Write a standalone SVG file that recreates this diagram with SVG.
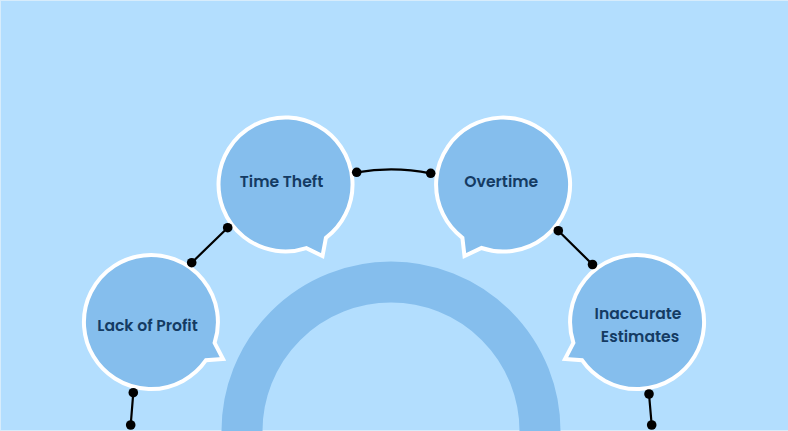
<svg xmlns="http://www.w3.org/2000/svg" width="788" height="431" viewBox="0 0 788 431">
<style>
.bubble{fill:#85beed;stroke:#ffffff;stroke-width:4;stroke-linejoin:miter}
.lbl{font-family:"Poppins","Inter","Liberation Sans",sans-serif;font-weight:600;font-size:15.6px;fill:#143b63;text-anchor:middle}
.con{fill:none;stroke:#000000;stroke-width:2.2;stroke-linecap:round}
.dot{fill:#000000}
</style>
<rect x="0" y="0" width="788" height="431" fill="#d7ecfb"/>
<rect x="1" y="1" width="787" height="429" fill="#b3defe"/>
<g id="ring">
<path d="M 242 431 A 149 149 0 0 1 540 431" fill="none" stroke="#85beed" stroke-width="41"/>
</g>
<g id="time-theft">
<path class="bubble" d="M 306.4 248.1 A 67 67 0 1 1 325.9 237.9 L 322.5 256 Z"/>
<text class="lbl" x="281.5" y="187.3">Time Theft</text>
</g>
<g id="overtime">
<path class="bubble" d="M 481.5 248 A 67 67 0 1 0 462.4 237.8 L 464.5 256 Z"/>
<text class="lbl" x="501.3" y="187.3">Overtime</text>
</g>
<g id="lack-of-profit">
<path class="bubble" d="M 206 360.2 A 67 67 0 1 1 214.6 342.9 L 223 359 Z"/>
<text class="lbl" x="147.5" y="330.7">Lack of Profit</text>
</g>
<g id="inaccurate-estimates">
<path class="bubble" d="M 582 360.2 A 67 67 0 1 0 573.4 342.9 L 565 359 Z"/>
<text class="lbl" x="638" y="319">Inaccurate</text>
<text class="lbl" x="640" y="342.3">Estimates</text>
</g>
<g id="connectors">
<path class="con" d="M 356.7 172.3 Q 394 166 430.7 173.3"/>
<circle class="dot" cx="356.7" cy="172.3" r="4.8"/>
<circle class="dot" cx="430.7" cy="173.3" r="4.8"/>
<path class="con" d="M 227.7 227.7 L 191.7 262.7"/>
<circle class="dot" cx="227.7" cy="227.7" r="4.8"/>
<circle class="dot" cx="191.7" cy="262.7" r="4.8"/>
<path class="con" d="M 558.3 230.7 L 592.5 264.5"/>
<circle class="dot" cx="558.3" cy="230.7" r="4.8"/>
<circle class="dot" cx="592.5" cy="264.5" r="4.8"/>
<path class="con" d="M 133.3 392.7 L 130.7 425"/>
<circle class="dot" cx="133.3" cy="392.7" r="4.8"/>
<circle class="dot" cx="130.7" cy="425" r="4.8"/>
<path class="con" d="M 649 394 L 651.7 425"/>
<circle class="dot" cx="649" cy="394" r="4.8"/>
<circle class="dot" cx="651.7" cy="425" r="4.8"/>
</g>
</svg>
